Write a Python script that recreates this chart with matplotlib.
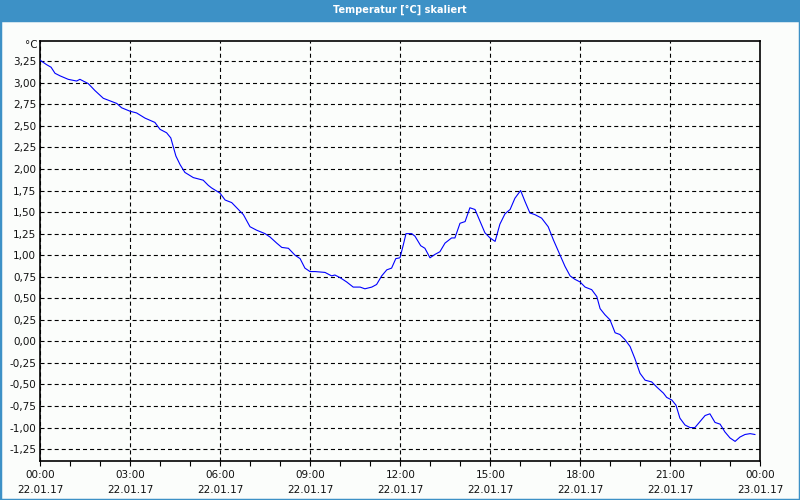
import matplotlib
matplotlib.use("Agg")
import matplotlib.pyplot as plt
from matplotlib.ticker import MultipleLocator
from matplotlib.patches import Rectangle

title = "Temperatur [°C] skaliert"
unit_label = "°C"

hours = [0.0, 0.21, 0.36, 0.49, 0.66, 0.93, 1.21, 1.32, 1.6, 1.82, 2.1, 2.32, 2.55, 2.71,
         2.99, 3.21, 3.49, 3.82, 3.99, 4.21, 4.35, 4.43, 4.52, 4.66, 4.82, 5.1, 5.43, 5.6,
         5.71, 5.99, 6.16, 6.38, 6.6, 6.77, 6.99, 7.21, 7.49, 7.66, 7.88, 8.05, 8.27, 8.49,
         8.66, 8.82, 8.99, 9.16, 9.49, 9.71, 9.82, 9.99, 10.21, 10.43, 10.66, 10.82, 11.05,
         11.21, 11.38, 11.55, 11.71, 11.85, 11.99, 12.1, 12.19, 12.38, 12.49, 12.68, 12.82,
         12.99, 13.16, 13.32, 13.49, 13.71, 13.82, 13.99, 14.16, 14.32, 14.49, 14.66, 14.82,
         14.99, 15.16, 15.32, 15.49, 15.66, 15.82, 16.01, 16.16, 16.32, 16.49, 16.71, 16.93,
         17.1, 17.3, 17.49, 17.66, 17.82, 17.99, 18.16, 18.38, 18.55, 18.66, 18.82, 18.99,
         19.16, 19.32, 19.49, 19.66, 19.82, 19.99, 20.16, 20.38, 20.55, 20.77, 20.88, 21.05,
         21.19, 21.32, 21.49, 21.66, 21.82, 21.99, 22.16, 22.32, 22.49, 22.66, 22.82, 22.99,
         23.16, 23.32, 23.49, 23.66, 23.82]

temps = [3.26, 3.21, 3.18, 3.11, 3.08, 3.04, 3.02, 3.04, 2.99, 2.91, 2.82, 2.79, 2.76, 2.71,
         2.67, 2.65, 2.59, 2.54, 2.46, 2.42, 2.36, 2.26, 2.15, 2.05, 1.96, 1.90, 1.87, 1.81,
         1.78, 1.72, 1.64, 1.61, 1.53, 1.47, 1.33, 1.29, 1.25, 1.21, 1.14, 1.09, 1.08, 1.00,
         0.96, 0.85, 0.81, 0.81, 0.80, 0.76, 0.77, 0.74, 0.69, 0.63, 0.63, 0.61, 0.63,
         0.66, 0.76, 0.83, 0.85, 0.96, 0.97, 1.12, 1.25, 1.25, 1.22, 1.11, 1.08,
         0.97, 1.01, 1.04, 1.14, 1.20, 1.20, 1.37, 1.39, 1.55, 1.53, 1.39, 1.26,
         1.20, 1.16, 1.36, 1.48, 1.53, 1.66, 1.75, 1.62, 1.49, 1.47, 1.43, 1.33,
         1.18, 1.02, 0.87, 0.76, 0.72, 0.69, 0.63, 0.60, 0.52, 0.38, 0.31, 0.25,
         0.10, 0.08, 0.02, -0.06, -0.20, -0.37, -0.45, -0.47, -0.53, -0.60, -0.65, -0.68,
         -0.74, -0.89, -0.97, -1.00, -1.00, -0.93, -0.86, -0.84, -0.94, -0.96, -1.05, -1.12,
         -1.16, -1.11, -1.08, -1.07, -1.08]

x_tick_hours = [0, 3, 6, 9, 12, 15, 18, 21, 24]
x_tick_times = ["00:00", "03:00", "06:00", "09:00", "12:00", "15:00", "18:00", "21:00", "00:00"]
x_tick_dates = ["22.01.17"] * 8 + ["23.01.17"]
y_ticks = [-1.25, -1.0, -0.75, -0.5, -0.25, 0.0, 0.25, 0.5, 0.75, 1.0, 1.25, 1.5, 1.75,
           2.0, 2.25, 2.5, 2.75, 3.0, 3.25]

plt.rcParams['font.family'] = ['DejaVu Sans']
plt.rcParams['lines.scale_dashes'] = False

W, H = 800, 500
fig = plt.figure(figsize=(8, 5), dpi=100, facecolor="#FBFDFB")

# title bar
fig.patches.append(Rectangle((0, 1 - 20 / H), 1, 20 / H, transform=fig.transFigure,
                             facecolor="#3D91C6", edgecolor="none", zorder=0))
fig.text(0.5, 1 - 10 / H, title, color="white", fontsize=7, fontweight="bold",
         ha="center", va="center")
# outer border
fig.patches.append(Rectangle((0, 0), 1, 1 - 20 / H, transform=fig.transFigure,
                             facecolor="none", edgecolor="#3D91C6", linewidth=2.5, zorder=0))

left, right, top, bottom = 40.3, 760.3, 40.7, 460.7
ax = fig.add_axes([left / W, 1 - bottom / H, (right - left) / W, (bottom - top) / H])
ax.set_facecolor("#FBFDFB")
ax.plot(hours, temps, color="#0000FF", linewidth=0.8, zorder=3)

ax.set_xlim(0, 24)
ax.set_ylim(-1.384, 3.488)

ax.set_yticks(y_ticks)
ax.set_yticklabels([f"{v:.2f}".replace(".", ",") for v in y_ticks])
ax.set_xticks(x_tick_hours)
ax.set_xticklabels([f"{t}\n{d}" for t, d in zip(x_tick_times, x_tick_dates)],
                   linespacing=1.65)
ax.xaxis.set_minor_locator(MultipleLocator(1))

ax.tick_params(axis="y", length=0, pad=3, labelsize=7.5, labelcolor="#111111")
ax.tick_params(axis="x", which="both", length=3.5, width=0.8, direction="out",
               pad=3, labelsize=7.5, labelcolor="#111111")

ax.grid(True, which="major", color="black", linestyle=(0, (2.9, 2.2)), linewidth=0.8)
for s in ax.spines.values():
    s.set_linewidth(1.2)
    s.set_color("black")

fig.text((left - 3) / W, 1 - 45 / H, unit_label, fontsize=7.5, ha="right", va="center",
         color="#111111")

fig.savefig("out.png", dpi=100, facecolor=fig.get_facecolor())
